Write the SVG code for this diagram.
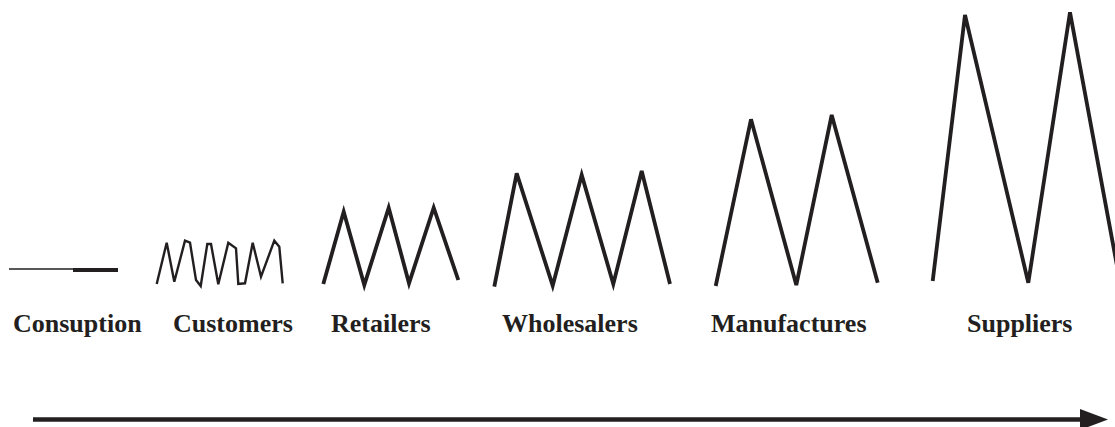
<svg xmlns="http://www.w3.org/2000/svg" width="1115" height="427" viewBox="0 0 1115 427">
<style>
.zig{fill:none;stroke:#231f20;stroke-linejoin:miter;stroke-linecap:butt}
.lbl{font-family:"Liberation Serif","Times New Roman",serif;font-weight:bold;font-size:26px;fill:#231f20}
</style>
<rect width="1115" height="427" fill="#ffffff"/>
<g id="consumption">
<line x1="9" y1="269" x2="118" y2="269" stroke="#231f20" stroke-width="1.6"/>
<rect x="73" y="268" width="45" height="4" fill="#231f20"/>
<text class="lbl" x="13" y="332">Consuption</text>
</g>
<g id="customers">
<polyline class="zig" stroke-width="2.4" stroke-linejoin="round" points="156.7,284 166.7,242.7 174.3,281.7 185,240.7 190,242.7 196,280 200.7,286 207.3,244 211,244 218.3,284.3 228.3,242.7 236,248.3 238.3,284 245,283.3 252.7,242.7 261,276.7 274.3,240.7 279.3,246.7 282.7,283.3"/>
<text class="lbl" x="173" y="332">Customers</text>
</g>
<g id="retailers">
<polyline class="zig" stroke-width="3.8" points="323.3,284 343.7,211.7 364.3,285 388.7,207.7 409,283.3 433.7,207.7 458.3,280"/>
<text class="lbl" x="331" y="332">Retailers</text>
</g>
<g id="wholesalers">
<polyline class="zig" stroke-width="3.8" points="494.3,286.7 516.7,173.3 552.7,285.7 581.7,175 613.3,284 641.7,171 670,284"/>
<text class="lbl" x="502" y="332">Wholesalers</text>
</g>
<g id="manufactures">
<polyline class="zig" stroke-width="3.8" points="715.7,286 751,119.3 796.3,285 831.7,115 877.7,282.7"/>
<text class="lbl" x="711" y="332">Manufactures</text>
</g>
<g id="suppliers">
<polyline class="zig" stroke-width="3.8" points="932.7,281 965,15 1028.3,282.7 1070,12.3 1120,282"/>
<text class="lbl" x="967" y="332">Suppliers</text>
</g>
<g id="connectors">
<line x1="33" y1="419.5" x2="1082" y2="419.5" stroke="#231f20" stroke-width="4.5"/>
<polygon points="1080,409 1108,419.5 1080,430" fill="#231f20"/>
</g>
</svg>
